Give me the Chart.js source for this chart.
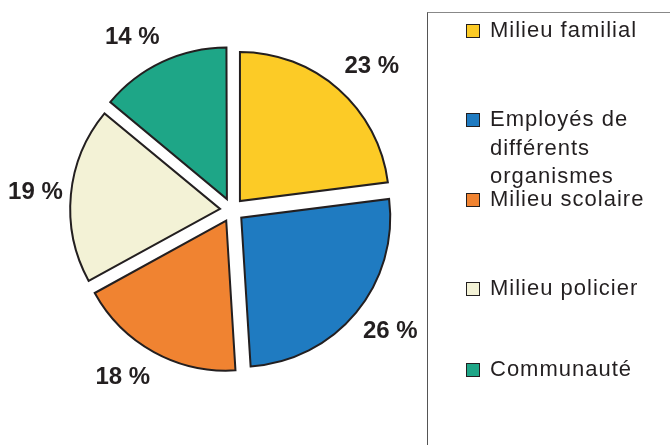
<!DOCTYPE html>
<html lang="fr">
  <head>
    <meta charset="UTF-8" />
    <title>Répartition par milieu</title>
    <script src="https://cdn.jsdelivr.net/npm/chart.js"></script>
    <style>
      body {
        margin: 0;
        width: 670px;
        height: 445px;
        background: #fff;
        overflow: hidden;
        position: relative;
        font-family: "Liberation Sans", Arial, sans-serif;
      }

      #pieChart {
        position: absolute;
        left: 0;
        top: 0;
      }

      .legend-box {
        position: absolute;
        left: 427px;
        top: 12px;
        width: 300px;
        height: 460px;
        border-left: 1.5px solid #555;
        border-top: 1.5px solid #888;
      }

      .legend-item {
        position: absolute;
        left: 38px;
        width: 190px;
      }

      .legend-item .swatch {
        position: absolute;
        left: 0;
        top: 0;
        width: 12px;
        height: 12px;
        border: 1.5px solid #231f20;
      }

      .legend-item .text {
        position: absolute;
        left: 24px;
        top: -8px;
        width: 170px;
        font-size: 22px;
        letter-spacing: 1px;
        line-height: 28.5px;
        color: #231f20;
      }
    </style>
  </head>
  <body>
    <canvas id="pieChart" width="464" height="420"></canvas>
    <div class="legend-box" id="legend"></div>

    <script>
      // categories and shares (%)
      var categories = [
        "Milieu familial",
        "Employés de différents organismes",
        "Milieu scolaire",
        "Milieu policier",
        "Communauté",
      ];
      var shares = [23, 26, 18, 19, 14];
      var sliceColors = ["#fccb26", "#1f7bc1", "#f08331", "#f3f2d6", "#1ea687"];

      // vertical position of each legend entry inside the box
      var legendTops = [11, 100, 180, 269, 350];

      // percentage labels: anchored outside each slice, the text box
      // is pushed away from the pie on the side it sits
      var outsideLabels = {
        id: "outsideLabels",
        afterDatasetsDraw: function (chart) {
          var ctx = chart.ctx;
          var meta = chart.getDatasetMeta(0);
          ctx.save();
          ctx.font = "bold 24px 'Liberation Sans', Arial, sans-serif";
          ctx.fillStyle = "#231f20";
          ctx.textAlign = "center";
          ctx.textBaseline = "middle";
          meta.data.forEach(function (arc, i) {
            var p = arc.getProps(["x", "y", "startAngle", "endAngle"], true);
            var mid = (p.startAngle + p.endAngle) / 2;
            var text = shares[i] + " %";
            var w = ctx.measureText(text).width;
            var r = 170;
            var cx = p.x + Math.cos(mid) * r + Math.sign(Math.cos(mid)) * w / 2;
            var cy = p.y + Math.sin(mid) * r + Math.sin(mid) * 21;
            ctx.fillText(text, cx, cy);
          });
          ctx.restore();
        },
      };

      new Chart(document.getElementById("pieChart").getContext("2d"), {
        type: "pie",
        data: {
          labels: categories,
          datasets: [
            {
              data: shares,
              backgroundColor: sliceColors,
              borderColor: "#231f20",
              borderWidth: 2,
              borderJoinStyle: "miter",
              offset: 48,
            },
          ],
        },
        options: {
          responsive: false,
          animation: false,
          radius: 149,
          layout: { padding: 0 },
          plugins: {
            legend: { display: false },
            tooltip: { enabled: false },
          },
        },
        plugins: [outsideLabels],
      });

      // legend on the right
      var legend = document.getElementById("legend");
      categories.forEach(function (name, i) {
        var item = document.createElement("div");
        item.className = "legend-item";
        item.style.top = legendTops[i] + "px";
        var sw = document.createElement("span");
        sw.className = "swatch";
        sw.style.background = sliceColors[i];
        var tx = document.createElement("span");
        tx.className = "text";
        tx.textContent = name;
        item.appendChild(sw);
        item.appendChild(tx);
        legend.appendChild(item);
      });
    </script>
  </body>
</html>
